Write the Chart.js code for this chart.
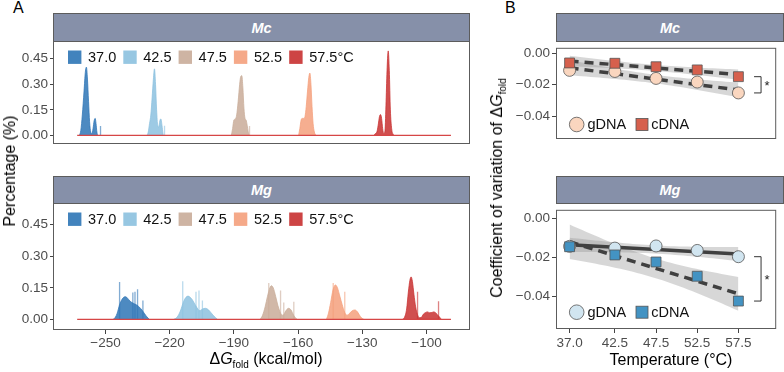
<!DOCTYPE html>
<html><head><meta charset="utf-8">
<script src="https://cdn.jsdelivr.net/npm/chart.js@4.4.1/dist/chart.umd.min.js"></script>
<style>
body{margin:0;background:#fff;font-family:'Liberation Sans',Arial,Helvetica,sans-serif;}
#wrap{position:relative;width:784px;height:372px;overflow:hidden;background:#fff;}
canvas{position:absolute;}
.strip{position:absolute;box-sizing:border-box;background:#8690a9;border:1px solid #5c5c5c;color:#fff;font-weight:bold;font-style:italic;font-size:14.5px;display:flex;align-items:center;justify-content:center;}
.t{position:absolute;font-size:16px;color:#000;white-space:nowrap;line-height:18px;}
.rot{transform:translate(-50%,-50%) rotate(-90deg);}
.hc{transform:translate(-50%,0);}
sub{font-size:10px;vertical-align:-4px;line-height:0;}
</style></head>
<body>
<div id="wrap">
  <div class="t" style="left:13px;top:-1px;font-size:16px">A</div>
  <div class="t" style="left:505px;top:-1px;font-size:16px">B</div>
  <div class="strip" style="left:53px;top:13px;width:417px;height:29px">Mc</div>
  <div class="strip" style="left:53px;top:176px;width:417px;height:28px">Mg</div>
  <div class="strip" style="left:556px;top:13px;width:228px;height:29px">Mc</div>
  <div class="strip" style="left:556px;top:176px;width:228px;height:28px">Mg</div>
  <canvas id="aMc" width="470" height="128" style="left:0;top:40px"></canvas>
  <canvas id="aMg" width="470" height="152" style="left:0;top:202px"></canvas>
  <canvas id="bMc" width="279" height="123" style="left:505px;top:40px"></canvas>
  <canvas id="bMg" width="279" height="151" style="left:505px;top:202px"></canvas>
  <div class="t rot" style="left:10px;top:171px">Percentage (%)</div>
  <div class="t rot" style="left:497px;top:188px">Coefficient of variation of Δ<i>G</i><sub>fold</sub></div>
  <div class="t hc" style="left:266px;top:350px">Δ<i>G</i><sub>fold</sub> (kcal/mol)</div>
  <div class="t hc" style="left:671px;top:351px">Temperature (°C)</div>
</div>
<script>
// ---------------- DATA ----------------
const tempLabels = ['37.0', '42.5', '47.5', '52.5', '57.5°C'];
const dgTicks = [-250, -220, -190, -160, -130, -100];
const pctTicks = [0, 0.15, 0.30, 0.45];
const baselineRange = [-263.2, -88.6];

// Mc density outlines [ΔG, percentage]
const mc37 = [[-262.2,0],[-261.5,0.03],[-260.8,0.12],[-260.0,0.26],[-259.4,0.37],[-258.9,0.40],[-258.4,0.33],[-257.9,0.20],[-257.4,0.08],[-256.9,0.02],[-256.3,0.01],[-255.8,0.04],[-255.3,0.085],[-254.8,0.10],[-254.4,0.07],[-254.0,0.02],[-253.6,0]];
const mc42 = [[-230.6,0],[-230.0,0.02],[-229.4,0.07],[-228.8,0.12],[-228.2,0.22],[-227.6,0.33],[-227.1,0.39],[-226.6,0.30],[-226.1,0.15],[-225.6,0.06],[-225.1,0.05],[-224.6,0.085],[-224.1,0.097],[-223.6,0.06],[-223.1,0.01],[-222.8,0]];
const mc47 = [[-191.2,0],[-190.6,0.04],[-190.0,0.09],[-189.3,0.097],[-188.7,0.12],[-188.0,0.20],[-187.3,0.30],[-186.8,0.345],[-186.3,0.35],[-185.8,0.28],[-185.3,0.16],[-184.8,0.10],[-184.3,0.09],[-183.8,0.06],[-183.3,0.02],[-182.9,0]];
const mc52 = [[-159.8,0],[-159.2,0.04],[-158.6,0.09],[-158.0,0.10],[-157.4,0.10],[-156.8,0.11],[-156.2,0.17],[-155.6,0.26],[-155.0,0.34],[-154.5,0.365],[-154.0,0.30],[-153.5,0.17],[-153.0,0.07],[-152.4,0.02],[-151.6,0]];
const mc57 = [[-124.6,0],[-124.0,0.01],[-123.2,0.02],[-122.6,0.06],[-122.0,0.11],[-121.5,0.122],[-121.0,0.10],[-120.5,0.04],[-120.0,0.01],[-119.4,0.03],[-118.9,0.20],[-118.4,0.40],[-117.9,0.495],[-117.4,0.38],[-116.9,0.15],[-116.3,0.04],[-115.5,0.005],[-115.0,0]];
const mcSpikes = [[[-252.3,0.055]], [[-222.4,0.057]], [[-182.7,0.055]], [], []];

// Mg density outlines
const mg37 = [[-246.4,0],[-245.4,0.01],[-244.5,0.03],[-243.4,0.07],[-242.3,0.095],[-241.4,0.106],[-240.6,0.108],[-239.6,0.10],[-238.6,0.088],[-237.6,0.08],[-236.4,0.074],[-235.3,0.068],[-234.1,0.058],[-232.9,0.044],[-231.7,0.027],[-230.6,0.012],[-229.4,0]];
const mg42 = [[-218.2,0],[-216.6,0.01],[-215.0,0.04],[-213.5,0.085],[-212.4,0.105],[-211.4,0.111],[-210.4,0.105],[-209.5,0.095],[-207.5,0.06],[-206.0,0.042],[-204.6,0.05],[-203.3,0.053],[-201.8,0.045],[-199.7,0.02],[-197.6,0]];
const mg47 = [[-177.8,0],[-176.6,0.02],[-175.4,0.06],[-174.3,0.11],[-173.2,0.15],[-172.5,0.16],[-171.6,0.15],[-170.5,0.11],[-169.4,0.065],[-168.2,0.03],[-167.0,0.02],[-165.8,0.04],[-164.5,0.053],[-163.3,0.045],[-162.1,0.02],[-161.0,0.005],[-160.3,0]];
const mg52 = [[-146.8,0],[-145.8,0.03],[-144.8,0.08],[-143.7,0.14],[-142.6,0.164],[-141.6,0.15],[-140.5,0.11],[-139.4,0.07],[-138.3,0.035],[-137.2,0.02],[-135.9,0.03],[-134.6,0.042],[-133.4,0.045],[-132.2,0.035],[-131.0,0.015],[-129.8,0.003],[-129.2,0]];
const mg57 = [[-111.3,0],[-110.3,0.01],[-109.3,0.05],[-108.5,0.13],[-107.8,0.185],[-107.2,0.202],[-106.6,0.18],[-105.9,0.12],[-105.1,0.06],[-104.3,0.025],[-103.4,0.008],[-102.4,0.01],[-101.5,0.025],[-100.4,0.033],[-99.6,0.036],[-98.6,0.032],[-97.5,0.033],[-96.6,0.036],[-95.6,0.03],[-94.5,0.018],[-93.5,0.006],[-93.0,0]];
const mgSpikes = [
  [[-243.4,0.178],[-237.2,0.128],[-236.2,0.132],[-235.0,0.143],[-232.5,0.09]],
  [[-213.9,0.181],[-207.7,0.132],[-206.3,0.137],[-204.7,0.09]],
  [[-173.7,0.173],[-168.2,0.137],[-166.7,0.08],[-162.0,0.084]],
  [[-143.6,0.173],[-138.2,0.132]],
  [[-104.2,0.132],[-94.4,0.087]]
];

// Panel B
const temps = [37, 42.5, 47.5, 52.5, 57.5];
const cvTicks = [-0.04, -0.02, 0];
const seriesLabels = ['gDNA', 'cDNA'];
const mcGDNA = [-0.0109, -0.0116, -0.0160, -0.0183, -0.0252];
const mcCDNA = [-0.0062, -0.0064, -0.0086, -0.0106, -0.0149];
const mgGDNA = [-0.0143, -0.0152, -0.0141, -0.0164, -0.0196];
const mgCDNA = [-0.0145, -0.0187, -0.0223, -0.0296, -0.0423];

// ---------------- STYLE ----------------
const FONT = "'Liberation Sans', Arial, Helvetica, sans-serif";
Chart.defaults.font.family = FONT;
const tempColors = ['rgb(46,117,182)','rgb(140,193,223)','rgb(201,172,153)','rgb(244,160,124)','rgb(200,48,48)'];
const rgba = (c,a) => c.replace('rgb(','rgba(').replace(')',','+a+')');
const minus = v => (v < 0 ? '\u2212' : '') + Math.abs(v);

const frame = {id:'frame', afterDatasetsDraw(chart){
  const {ctx, chartArea:a} = chart;
  ctx.save(); ctx.strokeStyle='#5c5c5c'; ctx.lineWidth=1;
  ctx.strokeRect(a.left+0.5, a.top+0.5, a.right-a.left-1, a.bottom-a.top-1);
  ctx.restore();
}};

function fitY(w){ return s => { s.width = w; s.paddingTop = 0; s.paddingBottom = 0; }; }
function fitX(h){ return s => { s.height = h; s.paddingLeft = 0; s.paddingRight = 0; }; }
const tickGrid = {drawOnChartArea:false, drawTicks:true, tickLength:4, color:'#444', lineWidth:1};
const tickFont = {size:13.5};

function tempLegend(offsetTop){
  return {id:'tl', afterDatasetsDraw(chart){
    const {ctx, chartArea:a} = chart;
    const y = a.top + offsetTop;
    ctx.save(); ctx.font = '14.5px ' + FONT; ctx.textBaseline='middle';
    tempLabels.forEach((l,i)=>{
      const x = a.left + 15 + i*55.3;
      ctx.fillStyle = rgba(tempColors[i],0.9);
      ctx.fillRect(x, y-6.7, 13.4, 13.4);
      ctx.fillStyle = '#111';
      ctx.fillText(l, x+20, y+0.5);
    });
    ctx.restore();
  }};
}

function densityDatasets(bodies, spikes){
  const ds = [];
  bodies.forEach((b,i)=>{
    ds.push({label:tempLabels[i], data:b.map(p=>({x:p[0], y:p[1]})), fill:'origin',
      backgroundColor:rgba(tempColors[i],0.85), borderColor:rgba(tempColors[i],0.95), borderWidth:0.8,
      pointRadius:0, cubicInterpolationMode:'monotone', order:3});
    const sp = [];
    spikes[i].forEach(s=>{ sp.push({x:s[0],y:0},{x:s[0],y:s[1]},{x:s[0],y:0}); });
    ds.push({data:sp, fill:false, borderColor:rgba(tempColors[i],0.6), borderWidth:1.3, pointRadius:0, tension:0, order:2});
  });
  ds.push({data:baselineRange.map(x=>({x, y:0})), borderColor:'rgb(214,70,70)', borderWidth:1.2, pointRadius:0, fill:false, order:0});
  return ds;
}

function makeA(id, bodies, spikes, showX){
  return new Chart(document.getElementById(id), {
    type:'line',
    data:{datasets:densityDatasets(bodies, spikes)},
    options:{
      responsive:false, animation:false, events:[],
      layout:{padding:{top:1, right:0, bottom:0, left:0}},
      plugins:{legend:{display:false}, tooltip:{enabled:false}},
      scales:{
        x:{type:'linear', min:-274.5, max:-79.7, display:showX,
           afterBuildTicks:s=>{ s.ticks = dgTicks.map(v=>({value:v})); },
           afterFit:fitX(24),
           ticks:{color:'#4d4d4d', font:tickFont, padding:1, maxRotation:0, callback:v=>minus(v)},
           grid:tickGrid, border:{display:false}},
        y:{type:'linear', min:-0.05, max:0.553,
           afterBuildTicks:s=>{ s.ticks = pctTicks.map(v=>({value:v})); },
           afterFit:fitY(53),
           ticks:{color:'#4d4d4d', font:tickFont, padding:2, callback:v=>v.toFixed(2)},
           grid:Object.assign({}, tickGrid, {tickLength:3}), border:{display:false}}
      }
    },
    plugins:[frame, tempLegend(16.2)]
  });
}

// linear model fit with 95% confidence band (as geom_smooth(method = "lm"))
function lmFit(xs, ys){
  const n = xs.length, mx = xs.reduce((a,b)=>a+b)/n, my = ys.reduce((a,b)=>a+b)/n;
  let sxx=0, sxy=0; xs.forEach((x,i)=>{ sxx+=(x-mx)**2; sxy+=(x-mx)*(ys[i]-my); });
  const b = sxy/sxx, a = my - b*mx;
  let sse=0; xs.forEach((x,i)=>{ sse += (ys[i]-a-b*x)**2; });
  const s = Math.sqrt(sse/(n-2)), t = 3.182446; // t(0.975, df = 3)
  return {pred:x=>a+b*x, half:x=>t*s*Math.sqrt(1/n + (x-mx)**2/sxx)};
}

function pointLegend(fills, offsetBottom){
  return {id:'pl', afterDatasetsDraw(chart){
    const {ctx, chartArea:a} = chart; const y = a.bottom - offsetBottom;
    ctx.save(); ctx.font = '14.5px ' + FONT; ctx.textBaseline='middle';
    // circle
    let cx = a.left + 20.7;
    ctx.fillStyle=fills[0]; ctx.strokeStyle='#555'; ctx.lineWidth=0.8;
    ctx.beginPath(); ctx.arc(cx, y, 7.3, 0, 2*Math.PI); ctx.fill(); ctx.stroke();
    ctx.fillStyle='#111'; ctx.fillText(seriesLabels[0], cx+10.8, y+0.5);
    // square
    cx = a.left + 86;
    ctx.fillStyle=fills[1]; ctx.fillRect(cx-6, y-6, 12, 12); ctx.strokeRect(cx-6, y-6, 12, 12);
    ctx.fillStyle='#111'; ctx.fillText(seriesLabels[1], cx+9.2, y+0.5);
    ctx.restore();
  }};
}

function bracket(yA, yB){
  return {id:'br', afterDatasetsDraw(chart){
    const {ctx, scales:{x, y}} = chart;
    const x0 = x.getPixelForValue(59.4), x1 = x.getPixelForValue(60.25);
    const p0 = y.getPixelForValue(yA), p1 = y.getPixelForValue(yB);
    ctx.save(); ctx.strokeStyle='#333'; ctx.lineWidth=1;
    ctx.beginPath(); ctx.moveTo(x0,p0); ctx.lineTo(x1,p0); ctx.lineTo(x1,p1); ctx.lineTo(x0,p1); ctx.stroke();
    ctx.fillStyle='#222'; ctx.font='13px ' + FONT; ctx.textAlign='center'; ctx.textBaseline='middle';
    ctx.fillText('*', x1+6, (p0+p1)/2+2);
    ctx.restore();
  }};
}

function makeB(id, g, c, fills, dashG, dashC, yMin, yMax, showX, legOff){
  const fg = lmFit(temps, g), fc = lmFit(temps, c);
  const grid = []; for(let k=0;k<=40;k++) grid.push(temps[0] + (temps[temps.length-1]-temps[0])*k/40);
  const band = 'rgba(150,150,150,0.38)';
  const ends = [temps[0], temps[temps.length-1]];
  const datasets = [
    {data:grid.map(x=>({x, y:fg.pred(x)+fg.half(x)})), borderWidth:0, pointRadius:0, fill:false, order:5},
    {data:grid.map(x=>({x, y:fg.pred(x)-fg.half(x)})), borderWidth:0, pointRadius:0, fill:'-1', backgroundColor:band, order:5},
    {data:grid.map(x=>({x, y:fc.pred(x)+fc.half(x)})), borderWidth:0, pointRadius:0, fill:false, order:4},
    {data:grid.map(x=>({x, y:fc.pred(x)-fc.half(x)})), borderWidth:0, pointRadius:0, fill:'-1', backgroundColor:band, order:4},
    {data:ends.map(x=>({x, y:fg.pred(x)})), borderColor:'#404040', borderWidth:3.5, borderDash:dashG?[9,6]:[], pointRadius:0, fill:false, order:3},
    {data:ends.map(x=>({x, y:fc.pred(x)})), borderColor:'#404040', borderWidth:3.5, borderDash:dashC?[9,6]:[], pointRadius:0, fill:false, order:2},
    {label:seriesLabels[0], data:temps.map((t,i)=>({x:t, y:g[i]})), showLine:false, pointStyle:'circle', pointRadius:6,
      pointBackgroundColor:fills[0], pointBorderColor:'#555', pointBorderWidth:0.8, order:1},
    {label:seriesLabels[1], data:temps.map((t,i)=>({x:t, y:c[i]})), showLine:false, pointStyle:'rect', pointRadius:7,
      pointBackgroundColor:fills[1], pointBorderColor:'#555', pointBorderWidth:0.8, order:0}
  ];
  const lastG = g[g.length-1], lastC = c[c.length-1];
  return new Chart(document.getElementById(id), {
    type:'line', data:{datasets},
    options:{
      responsive:false, animation:false, events:[],
      layout:{padding:{top:1, right:0, bottom:0, left:0}},
      plugins:{legend:{display:false}, tooltip:{enabled:false}},
      scales:{
        x:{type:'linear', min:35.35, max:62.09, display:showX,
           afterBuildTicks:s=>{ s.ticks = temps.map(v=>({value:v})); },
           afterFit:fitX(24),
           ticks:{color:'#4d4d4d', font:tickFont, padding:2, maxRotation:0, callback:v=>v.toFixed(1)},
           grid:tickGrid, border:{display:false}},
        y:{type:'linear', min:yMin, max:yMax,
           afterBuildTicks:s=>{ s.ticks = cvTicks.map(v=>({value:v})); },
           afterFit:fitY(51),
           ticks:{color:'#4d4d4d', font:tickFont, padding:2, callback:v=>(v<0?'\u2212':'')+Math.abs(v).toFixed(2)},
           grid:tickGrid, border:{display:false}}
      }
    },
    plugins:[frame, pointLegend(fills, legOff), bracket(Math.max(lastG,lastC), Math.min(lastG,lastC))]
  });
}

makeA('aMc', [mc37, mc42, mc47, mc52, mc57], mcSpikes, false);
makeA('aMg', [mg37, mg42, mg47, mg52, mg57], mgSpikes, true);
makeB('bMc', mcGDNA, mcCDNA, ['#fad6bf', '#d6604d'], true, true, -0.0544, 0.0034, false, 14.5);
makeB('bMg', mgGDNA, mgCDNA, ['#d1e5f0', '#4393c3'], false, true, -0.0566, 0.0044, true, 16.8);
</script>
</body></html>
